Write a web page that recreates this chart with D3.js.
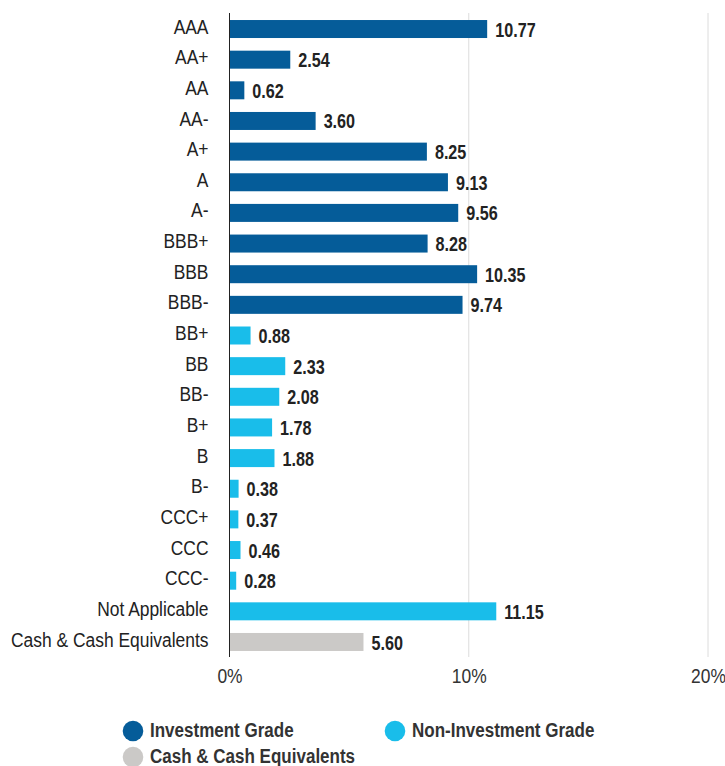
<!DOCTYPE html>
<html><head><meta charset="utf-8">
<script src="https://cdn.jsdelivr.net/npm/d3@7"></script>
<style>
body{margin:0;background:#fff;}
svg{display:block;}
text{font-family:"Liberation Sans",Arial,sans-serif;}
</style></head>
<body>
<svg id="chart" width="725" height="766"></svg>
<script>
const categories = ["AAA","AA+","AA","AA-","A+","A","A-","BBB+","BBB","BBB-","BB+","BB","BB-","B+","B","B-","CCC+","CCC","CCC-","Not Applicable","Cash & Cash Equivalents"];
const values = [10.77,2.54,0.62,3.60,8.25,9.13,9.56,8.28,10.35,9.74,0.88,2.33,2.08,1.78,1.88,0.38,0.37,0.46,0.28,11.15,5.60];
const groups = ["IG","IG","IG","IG","IG","IG","IG","IG","IG","IG","NIG","NIG","NIG","NIG","NIG","NIG","NIG","NIG","NIG","NIG","CASH"];
const groupNames = ["Investment Grade","Non-Investment Grade","Cash & Cash Equivalents"];
const groupKeys = ["IG","NIG","CASH"];
const groupColors = ["#055c99","#19bdea","#cbc9c7"];
const xTicks = [0,10,20];

const SX = 0.83; // horizontal condensing to mimic a narrow face
const svg = d3.select("#chart");
const x = d3.scaleLinear().domain([0,20]).range([229.5,708]);
const y = d3.scaleBand().domain(categories).range([13.7,657.3]).paddingInner(0.413).paddingOuter(0.2065);
const color = d3.scaleOrdinal().domain(groupKeys).range(groupColors);

// gridlines
svg.append("g").selectAll("line").data(xTicks.slice(1)).join("line")
  .attr("x1",d=>x(d)).attr("x2",d=>x(d)).attr("y1",13).attr("y2",657)
  .attr("stroke","#dcdcdc").attr("stroke-width",1);

// bars
const data = categories.map((c,i)=>({c,v:values[i],g:groups[i]}));
svg.append("g").selectAll("rect").data(data).join("rect")
  .attr("x",x(0)).attr("y",d=>y(d.c)).attr("width",d=>x(d.v)-x(0)).attr("height",y.bandwidth())
  .attr("fill",d=>color(d.g));

// value labels
svg.append("g").selectAll("text").data(data).join("text")
  .attr("transform",d=>`translate(${x(d.v)+8},${y(d.c)+y.bandwidth()/2+1})scale(${SX},1)`)
  .attr("dominant-baseline","central")
  .attr("font-size",19.5).attr("font-weight","bold").attr("fill","#222")
  .text(d=>d.v.toFixed(2));

// y axis
const yAxis = d3.axisLeft(y).tickSize(0).tickPadding(0);
const gy = svg.append("g").attr("transform","translate(229.5,0)").call(yAxis);
gy.select(".domain").attr("stroke","#222").attr("d","M0,13V657");
gy.selectAll(".tick text").attr("font-size",21).attr("fill","#222").attr("font-family",null)
  .attr("x",null).attr("dy",null).attr("dominant-baseline","central")
  .attr("transform",`translate(-21,-2.5)scale(${SX},1)`);

// x axis
const xAxis = d3.axisBottom(x).tickValues(xTicks).tickFormat(d=>d+"%").tickSize(0).tickPadding(0);
const gx = svg.append("g").attr("transform","translate(0,657)").call(xAxis);
gx.select(".domain").remove();
gx.selectAll(".tick text").attr("font-size",21).attr("fill","#333").attr("font-family",null)
  .attr("y",null).attr("dy",null).attr("dominant-baseline","central")
  .attr("transform",`translate(0,18.5)scale(${SX},1)`);

// legend
const legendPos = [[133,731],[395,731],[133,757]];
const lg = svg.append("g").selectAll("g").data(groupNames).join("g")
  .attr("transform",(d,i)=>`translate(${legendPos[i][0]},${legendPos[i][1]})`);
lg.append("circle").attr("r",10.3).attr("fill",(d,i)=>groupColors[i]);
lg.append("text").attr("transform",`translate(17,-1.5)scale(${SX},1)`).attr("dominant-baseline","central")
  .attr("font-size",20.5).attr("font-weight","bold").attr("fill","#333").text(d=>d);
</script>
</body></html>
